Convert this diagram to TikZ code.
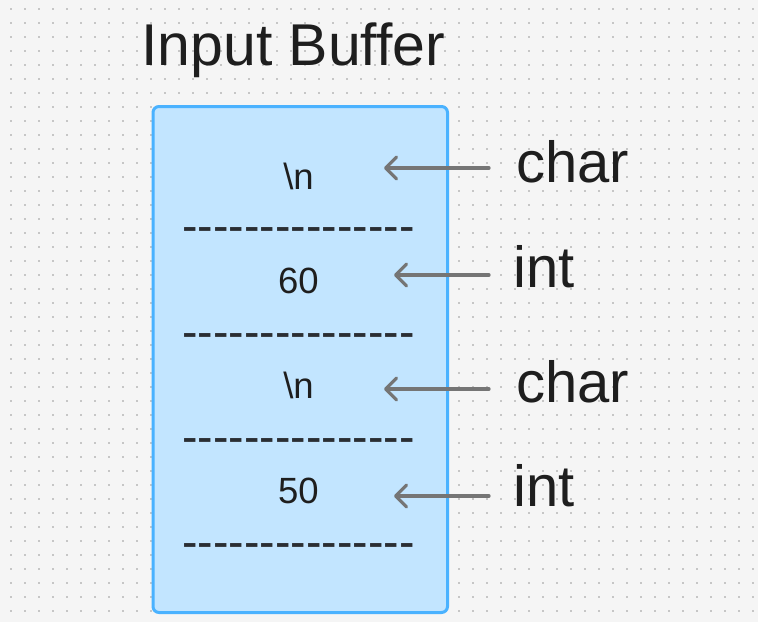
\documentclass[tikz,border=0pt]{standalone}
\usepackage{fontspec}
\usepackage{graphicx}
\setmainfont{Liberation Sans}
\usetikzlibrary{arrows.meta}
\definecolor{bg}{HTML}{F5F5F5}
\definecolor{dotc}{HTML}{C6C6C6}
\definecolor{boxfill}{HTML}{C2E5FF}
\definecolor{boxline}{HTML}{4AB2FF}
\definecolor{ink}{HTML}{1E1E1E}
\definecolor{dashink}{HTML}{2A2E33}
\definecolor{arrowc}{HTML}{757575}
\newcommand{\myDashes}{{-}{-}{-}{-}{-}{-}{-}{-}{-}{-}{-}{-}{-}{-}{-}}
\newcommand{\dashLine}{\resizebox{232pt}{1.4\height}{\myDashes}}
\tikzset{
  titletext/.style={inner sep=0pt, text=ink, font=\fontsize{59}{70}\selectfont},
  lbltext/.style={inner sep=0pt, text=ink, font=\fontsize{58}{66}\selectfont},
  celltext/.style={inner sep=0pt, text=ink, font=\fontsize{36.5}{42}\selectfont},
  dashrow/.style={inner sep=0pt, text=dashink, font=\fontsize{35}{42}\selectfont},
  bufbox/.style={draw=boxline, fill=boxfill, line width=3pt, rounded corners=6pt, inner sep=0pt},
  ptr/.style={draw=arrowc, line width=3.2pt, line cap=round, line join=round,
    -{Straight Barb[length=11pt, width=22pt, line cap=round, line join=round]}}
}
\begin{document}
\begin{tikzpicture}[x=1pt,y=-1pt]
\useasboundingbox (0,0) rectangle (758,622);
\fill[bg] (0,0) rectangle (758,622);
\foreach \i in {0,...,53}{
  \foreach \j in {0,...,44}{
    \fill[dotc] ({10+14*\i},{8+14*\j}) rectangle ++(2,2);
  }
}
% title
\node[titletext, anchor=base west] (title) at (141,65) {Input Buffer};
% buffer box
\node[bufbox, anchor=north west, minimum width=294.5pt, minimum height=506pt] (buf) at (151.5,105) {};
% cells
\node[celltext, anchor=base] (c1) at (298.5,189) {\textbackslash n};
\node[dashrow, anchor=base] (d1) at (298.5,242) {\dashLine};
\node[celltext, anchor=base] (c2) at (298.5,293) {60};
\node[dashrow, anchor=base] (d2) at (298.5,348) {\dashLine};
\node[celltext, anchor=base] (c3) at (298.5,398) {\textbackslash n};
\node[dashrow, anchor=base] (d3) at (298.5,453) {\dashLine};
\node[celltext, anchor=base] (c4) at (298.5,503) {50};
\node[dashrow, anchor=base] (d4) at (298.5,558) {\dashLine};
% labels
\node[lbltext, anchor=base west] (l1) at (516,182) {char};
\node[lbltext, anchor=base west] (l2) at (513,287) {int};
\node[lbltext, anchor=base west] (l3) at (516,402) {char};
\node[lbltext, anchor=base west] (l4) at (513,506) {int};
% arrow ends
\coordinate (s1) at (489,168); \coordinate (e1) at (384,168);
\coordinate (s2) at (489,275); \coordinate (e2) at (394,275);
\coordinate (s3) at (489,389); \coordinate (e3) at (384,389);
\coordinate (s4) at (489,496); \coordinate (e4) at (394,496);
\draw[ptr] (s1) -- (e1);
\draw[ptr] (s2) -- (e2);
\draw[ptr] (s3) -- (e3);
\draw[ptr] (s4) -- (e4);
\end{tikzpicture}
\end{document}
